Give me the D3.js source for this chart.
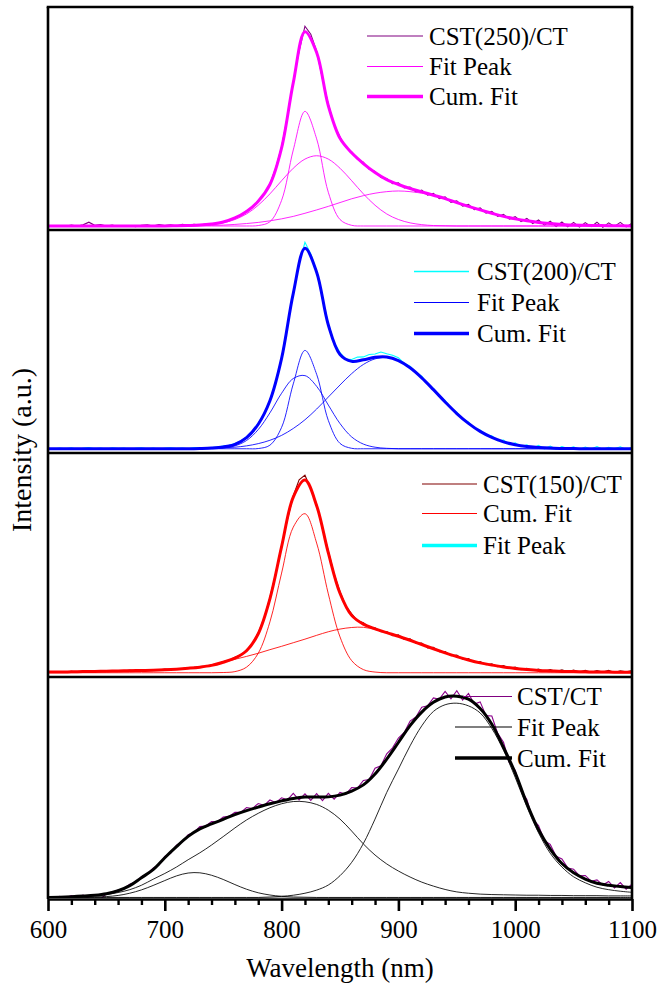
<!DOCTYPE html>
<html lang="en">
<head>
<meta charset="UTF-8">
<title>PL fits</title>
<script src="https://d3js.org/d3.v7.min.js"></script>
<style>
  body { margin: 0; background: #fff; }
  svg, svg text { font-family: "Liberation Serif", Tinos, "Times New Roman", Times, "DejaVu Serif", serif !important; }
  text { fill: #000; }
</style>
</head>
<body>
<script>
const w = 658;
const h = 994;
const serif = "'Liberation Serif', Tinos, 'Times New Roman', Times, 'DejaVu Serif', serif";

// wavelength grids (nm)
const wlFit = d3.range(600, 1101, 10);
const wlData = d3.range(600, 1101, 5);

const xTicks = [600, 700, 800, 900, 1000, 1100];
const xMinor = d3.range(620, 1100, 20).filter(d => d % 100 !== 0);

const legendLabels = [
  ["CST(250)/CT", "Fit Peak", "Cum. Fit"],
  ["CST(200)/CT", "Fit Peak", "Cum. Fit"],
  ["CST(150)/CT", "Cum. Fit", "Fit Peak"],
  ["CST/CT", "Fit Peak", "Cum. Fit"]
];

// ---- CST(250)/CT ----
const p1Data = [
  0.3,-0.2,0.2,-0.1,0.4,0.0,0.5,1.7,0.3,0.6,
  0.0,0.4,-0.2,0.2,0.1,-0.3,0.3,0.5,0.0,0.6,
  0.2,0.5,0.0,0.7,0.3,0.8,0.4,0.9,1.1,1.2,
  1.9,2.4,3.8,4.6,6.8,8.3,11.4,14.2,18.9,26.0,
  35.6,49.2,64.8,78.4,89.6,86.0,78.4,66.0,54.6,45.4,
  39.9,35.4,33.2,29.9,28.6,25.4,24.5,21.7,21.3,19.0,
  19.4,17.1,17.5,15.3,16.1,13.8,14.6,12.3,13.1,10.6,
  11.3,8.9,9.7,7.3,8.1,5.8,6.6,4.3,5.2,3.1,
  4.2,2.0,3.4,1.1,2.7,0.4,2.1,-0.2,1.8,-0.4,
  1.6,-0.5,1.5,-0.3,1.7,-0.6,1.4,-0.2,1.6,-0.4,
  1.2
];
const p1PeakA = [
  0,0,0,0,0,0,0,0,0,0,
  0,0,0,0,0,0,0,0,0.2,1.9,
  11.5,34.1,51.4,39.1,15.1,2.9,0.3,0,0,0,
  0,0,0,0,0,0,0,0,0,0,
  0,0,0,0,0,0,0,0,0,0,
  0
];
const p1PeakB = [
  0,0,0,0,0,0,0,0,0,0,
  0,0,0.1,0.2,0.6,1.4,2.9,5.4,9.3,14.4,
  20.3,25.9,30.0,31.5,30.0,25.9,20.3,14.4,9.3,5.4,
  2.9,1.4,0.6,0.2,0.1,0,0,0,0,0,
  0,0,0,0,0,0,0,0,0,0,
  0
];
const p1PeakC = [
  0,0,0,0,0,0,0,0,0,0,
  0,0.1,0.1,0.2,0.3,0.4,0.7,1.1,1.6,2.3,
  3.2,4.3,5.7,7.2,8.8,10.5,12.2,13.6,14.7,15.4,
  15.7,15.4,14.7,13.6,12.2,10.5,8.8,7.2,5.7,4.3,
  3.2,2.3,1.6,1.1,0.7,0.4,0.3,0.2,0.1,0.1,
  0
];
const p1Cum = [
  0,0,0,0,0,0,0,0,0,0,
  0,0.1,0.2,0.4,0.9,1.8,3.6,6.5,11.1,18.6,
  35.0,64.3,87.1,77.8,53.9,39.3,32.8,28.0,24.0,20.8,
  18.6,16.8,15.3,13.8,12.3,10.5,8.8,7.2,5.7,4.3,
  3.2,2.3,1.6,1.1,0.7,0.4,0.3,0.2,0.1,0.1,
  0
];

// ---- CST(200)/CT ----
const p2Data = [
  0.2,-0.1,0.3,0.0,0.4,-0.2,0.2,0.5,0.0,0.3,
  -0.1,0.4,0.1,0.3,-0.2,0.2,0.4,0.0,0.3,-0.1,
  0.2,0.4,0.1,0.3,0.0,0.5,0.3,0.4,0.6,0.8,
  1.2,1.6,2.4,3.5,5.3,7.9,11.4,15.8,21.9,30.2,
  40.9,55.6,70.4,83.1,92.6,87.4,79.6,67.3,56.1,47.6,
  43.1,40.2,40.0,41.1,41.2,42.3,42.5,43.4,42.6,41.9,
  40.8,38.3,37.0,34.2,32.6,29.0,27.1,23.6,21.7,18.2,
  16.4,13.3,12.0,9.3,8.4,6.0,5.8,3.6,3.9,1.9,
  2.6,0.9,1.8,0.2,1.5,0.0,1.2,-0.2,1.0,0.1,
  0.9,-0.3,0.8,-0.1,1.0,-0.2,0.7,0.0,0.9,-0.3,
  0.6
];
const p2PeakA = [
  0,0,0,0,0,0,0,0,0,0,
  0,0,0,0,0,0,0,0,0.1,1.6,
  9.6,29.1,44.1,33.4,12.7,2.4,0.2,0,0,0,
  0,0,0,0,0,0,0,0,0,0,
  0,0,0,0,0,0,0,0,0,0,
  0
];
const p2PeakB = [
  0,0,0,0,0,0,0,0,0,0,
  0,0,0,0,0.1,0.4,1.3,3.7,8.6,16.1,
  24.9,31.5,32.8,28.0,19.6,11.3,5.3,2.1,0.7,0.2,
  0,0,0,0,0,0,0,0,0,0,
  0,0,0,0,0,0,0,0,0,0,
  0
];
const p2PeakC = [
  0,0,0,0,0,0,0,0,0,0,
  0,0,0,0.1,0.2,0.4,0.7,1.3,2.3,3.8,
  6.0,9.1,13.0,17.8,23.2,28.6,33.7,37.8,40.3,40.9,
  39.5,36.3,31.8,26.5,21.0,15.8,11.4,7.8,5.1,3.1,
  1.8,1.0,0.6,0.3,0.1,0.1,0,0,0,0,
  0
];
const p2Cum = [
  0,0,0,0,0,0,0,0,0,0,
  0,0,0,0.1,0.3,0.8,2.0,5.0,11.0,21.5,
  40.5,69.7,89.9,79.2,55.5,42.3,39.2,39.9,41.0,41.1,
  39.5,36.3,31.8,26.5,21.0,15.8,11.4,7.8,5.1,3.1,
  1.8,1.0,0.6,0.3,0.1,0.1,0,0,0,0,
  0
];

// ---- CST(150)/CT ----
const p3Data = [
  0.4,0.1,0.5,0.2,0.6,0.3,0.7,0.4,0.8,0.5,
  0.9,0.6,1.0,0.8,1.2,0.9,1.3,1.0,1.4,1.2,
  1.6,1.4,1.8,1.9,2.2,2.4,2.8,3.0,3.6,4.0,
  5.0,5.6,6.9,7.9,10.2,13.0,17.9,24.3,33.6,44.5,
  56.9,68.4,79.0,86.1,88.2,82.0,75.1,64.3,54.4,44.0,
  36.2,29.8,26.3,23.2,22.3,20.2,20.1,18.3,18.4,16.6,
  16.9,14.9,15.1,13.2,13.3,11.1,11.3,9.4,9.5,7.6,
  7.9,6.0,6.3,4.6,5.0,3.6,4.0,2.7,3.2,2.0,
  2.5,1.4,2.0,1.0,1.6,0.7,1.4,0.5,1.3,0.4,
  1.2,0.3,1.1,0.2,1.0,0.3,1.1,0.1,0.9,0.4,
  1.0
];
const p3PeakA = [
  0,0,0,0,0,0,0,0,0,0,
  0,0,0,0,0,0.1,0.5,2.5,8.7,22.7,
  44.5,65.0,71.0,57.9,35.2,16.0,5.4,1.4,0.3,0,
  0,0,0,0,0,0,0,0,0,0,
  0,0,0,0,0,0,0,0,0,0,
  0
];
const p3PeakC = [
  0.3,0.3,0.4,0.5,0.6,0.7,0.8,0.9,1.0,1.1,
  1.3,1.6,2.0,2.5,3.3,4.6,6.0,7.3,8.7,10.3,
  11.8,13.4,15.0,16.7,18.3,19.5,20.2,20.3,19.3,17.9,
  16.3,14.5,12.6,10.7,8.9,7.2,5.7,4.4,3.4,2.6,
  1.9,1.4,1.0,0.8,0.6,0.5,0.4,0.3,0.3,0.2,
  0.2
];
const p3Cum = [
  0.3,0.3,0.4,0.5,0.6,0.7,0.8,0.9,1.0,1.1,
  1.3,1.6,2.0,2.5,3.3,4.7,6.5,9.8,17.4,33.0,
  56.3,78.4,86.0,74.6,53.5,35.5,25.6,21.7,19.6,17.9,
  16.3,14.5,12.6,10.7,8.9,7.2,5.7,4.4,3.4,2.6,
  1.9,1.4,1.0,0.8,0.6,0.5,0.4,0.3,0.3,0.2,
  0.2
];

// ---- CST/CT ----
const p4Data = [
  0.9,0.2,1.2,0.4,1.5,0.6,1.7,0.3,-0.6,0.0,
  2.3,3.0,4.0,4.8,6.6,7.6,10.0,11.3,13.9,15.3,
  19.2,20.6,24.3,25.8,29.0,30.0,32.6,32.9,34.9,34.8,
  36.9,37.2,39.1,39.0,41.2,40.8,43.0,42.2,44.6,43.4,
  45.6,44.7,47.6,44.6,47.4,44.4,47.5,44.3,47.6,45.0,
  48.0,47.2,50.2,50.0,53.4,53.8,58.9,60.0,65.4,68.1,
  72.5,75.0,80.1,82.0,86.4,87.0,90.6,90.0,93.5,90.2,
  93.8,89.6,92.6,87.8,88.8,82.6,82.4,74.6,70.6,61.4,
  58.0,48.8,44.8,36.0,33.1,26.3,24.6,19.3,18.0,14.0,
  13.4,10.4,10.6,8.0,8.6,6.3,7.9,5.0,7.4,4.4,
  6.7
];
const p4Peak1 = [
  0.7,0.7,0.7,0.8,0.9,1.1,1.6,2.6,4.1,6.1,
  8.3,10.4,11.7,11.8,10.7,8.8,6.5,4.4,2.8,1.8,
  1.2,0.9,0.8,0.7,0.7,0.7,0.7,0.7,0.7,0.7,
  0.7,0.7,0.7,0.7,0.7,0.7,0.7,0.7,0.7,0.7,
  0.7,0.7,0.7,0.7,0.7,0.7,0.7,0.7,0.7,0.7,
  0.7
];
const p4Peak2 = [
  0.8,0.9,1.0,1.2,1.5,2.0,2.9,4.2,6.2,8.9,
  11.5,14.4,17.7,20.8,24.3,28.1,32.0,35.6,38.6,41.1,
  42.9,43.9,43.8,42.6,40.0,36.0,30.6,24.8,19.8,15.8,
  12.6,9.9,7.6,5.8,4.3,3.2,2.6,2.2,2.0,1.9,
  1.8,1.7,1.7,1.6,1.6,1.5,1.5,1.5,1.4,1.4,
  1.4
];
const p4Peak3 = [
  0.7,0.7,0.7,0.7,0.7,0.7,0.7,0.7,0.7,0.7,
  0.7,0.7,0.7,0.7,0.7,0.7,0.7,0.7,0.7,0.9,
  1.2,1.7,2.6,4.0,6.3,10.5,16.5,25.0,36.0,48.0,
  58.5,69.0,78.0,84.5,87.5,88.2,87.0,83.8,76.8,67.0,
  54.8,41.5,29.8,20.6,14.4,10.0,7.3,5.3,4.2,3.5,
  3.0
];
const p4Cum = [
  0.7,0.8,1.0,1.3,1.7,2.4,3.7,6.0,9.6,13.2,
  18.6,23.6,28.2,31.6,33.8,35.9,38.0,39.8,41.4,42.9,
  44.2,45.3,45.9,45.9,46.0,46.8,48.6,51.4,56.3,63.0,
  70.5,78.1,84.2,88.6,91.0,91.3,90.0,85.8,78.7,68.3,
  56.8,43.0,31.2,22.5,16.0,11.8,9.0,7.1,6.2,5.6,
  5.1
];
const p4Baseline = 0.4;

// layout
const left = 48, right = 632;
const edges = [7, 230, 453, 677, 899];

const panels = [
  { data: p1Data, peaks: [p1PeakA, p1PeakB, p1PeakC], cum: p1Cum, domain: [-1.8, 98.2],
    dataColor: "#800080", peakColor: "#ff00ff", cumColor: "#ff00ff",
    leg: { x1: 367, x2: 423, tx: 429, ys: [36, 66.5, 96.5],
           colors: ["#800080", "#ff00ff", "#ff00ff"], widths: [1.2, 1.2, 3.7] } },
  { data: p2Data, peaks: [p2PeakA, p2PeakB, p2PeakC], cum: p2Cum, domain: [-1.9, 98.1],
    dataColor: "#00ffff", peakColor: "#0000ff", cumColor: "#0000ff",
    leg: { x1: 414, x2: 469, tx: 477, ys: [271.5, 302.5, 333.5],
           colors: ["#00ffff", "#0000ff", "#0000ff"], widths: [1.4, 1.2, 3.7] } },
  { data: p3Data, peaks: [p3PeakA, p3PeakC], cum: p3Cum, domain: [-1.9, 98.1],
    dataColor: "#800000", peakColor: "#ff0000", cumColor: "#ff0000",
    leg: { x1: 422, x2: 477, tx: 483, ys: [484, 513.5, 545.5],
           colors: ["#800000", "#ff0000", "#00ffff"], widths: [1.2, 1.2, 3.7] } },
  { data: p4Data, peaks: [p4Peak1, p4Peak2, p4Peak3], cum: p4Cum, domain: [0, 100],
    dataColor: "#8b008b", peakColor: "#000000", cumColor: "#000000",
    leg: { x1: 455, x2: 512, tx: 517, ys: [696.5, 727, 758], firstX1: 463,
           colors: ["#800080", "#000000", "#000000"], widths: [1.2, 1.2, 3.7] } }
];

const svg = d3.select("body")
  .append("svg")
  .attr("width", w)
  .attr("height", h)
  .attr("font-family", serif)
  .style("background", "#fff");

const x = d3.scaleLinear().domain([600, 1100]).range([left, right]);

const defs = svg.append("defs");

panels.forEach((p, i) => {
  const top = edges[i], bottom = edges[i + 1];
  const y = d3.scaleLinear().domain(p.domain).range([bottom, top]);

  defs.append("clipPath").attr("id", "clip" + i)
    .append("rect")
    .attr("x", left + 1).attr("y", top + 1)
    .attr("width", right - left - 2).attr("height", bottom - top - 2);

  const g = svg.append("g").attr("clip-path", "url(#clip" + i + ")");

  const fitLine = d3.line()
    .x((d, j) => x(wlFit[j]))
    .y(d => y(d))
    .curve(d3.curveCatmullRom.alpha(0.5));
  const dataLine = d3.line()
    .x((d, j) => x(wlData[j]))
    .y(d => y(d));

  if (i === 3) {
    g.append("line")
      .attr("x1", left).attr("x2", right)
      .attr("y1", y(p4Baseline)).attr("y2", y(p4Baseline))
      .attr("stroke", "#9a9a9a").attr("stroke-width", 1.6);
  }

  // raw spectrum first, fits drawn over it
  g.append("path")
    .datum(p.data)
    .attr("d", dataLine)
    .attr("fill", "none")
    .attr("stroke", p.dataColor)
    .attr("stroke-width", 1.1);

  p.peaks.forEach(pk => {
    g.append("path")
      .datum(pk)
      .attr("d", fitLine)
      .attr("fill", "none")
      .attr("stroke", p.peakColor)
      .attr("stroke-width", 1)
      .attr("stroke-opacity", 0.85);
  });

  g.append("path")
    .datum(p.cum)
    .attr("d", fitLine)
    .attr("fill", "none")
    .attr("stroke", p.cumColor)
    .attr("stroke-width", 3);

  // legend
  const lg = svg.append("g");
  legendLabels[i].forEach((lab, k) => {
    const ly = p.leg.ys[k];
    lg.append("line")
      .attr("x1", (k === 0 && p.leg.firstX1) ? p.leg.firstX1 : p.leg.x1)
      .attr("x2", p.leg.x2)
      .attr("y1", ly).attr("y2", ly)
      .attr("stroke", p.leg.colors[k])
      .attr("stroke-width", p.leg.widths[k]);
    lg.append("text")
      .attr("x", p.leg.tx)
      .attr("y", ly + 8.8)
      .attr("font-family", serif)
      .style("font-size", "25px")
      .text(lab);
  });
});

// frame
const frame = svg.append("g")
  .attr("stroke", "#000")
  .attr("stroke-width", 2.6);
frame.append("line").attr("x1", left - 1.3).attr("x2", right + 1.3).attr("y1", edges[0]).attr("y2", edges[0]);
edges.slice(1, 4).forEach(e => {
  frame.append("line").attr("x1", left).attr("x2", right).attr("y1", e).attr("y2", e);
});
frame.append("line").attr("x1", left).attr("x2", left).attr("y1", edges[0]).attr("y2", edges[4]);
frame.append("line").attr("x1", right).attr("x2", right).attr("y1", edges[0]).attr("y2", edges[4]);

// x axis
const xAxis = d3.axisBottom(x)
  .tickValues(xTicks)
  .tickSize(12)
  .tickSizeOuter(0)
  .tickPadding(9)
  .tickFormat(d3.format("d"));

const minorAxis = d3.axisBottom(x)
  .tickValues(xMinor)
  .tickSize(6)
  .tickFormat("");

const gm = svg.append("g")
  .attr("transform", "translate(0," + edges[4] + ")")
  .call(minorAxis);
gm.select(".domain").remove();
gm.selectAll("line").attr("stroke", "#000").attr("stroke-width", 2.4);

const gx = svg.append("g")
  .attr("transform", "translate(0," + edges[4] + ")")
  .call(xAxis)
  .attr("font-family", serif)
  .attr("font-size", 25);
gx.select(".domain").attr("stroke", "#000").attr("stroke-width", 2.6);
gx.selectAll(".tick line").attr("stroke", "#000").attr("stroke-width", 2.6);
gx.selectAll(".tick text").attr("fill", "#000");

// axis titles
svg.append("text")
  .attr("x", (left + right) / 2)
  .attr("y", 977)
  .attr("text-anchor", "middle")
  .attr("font-family", serif)
  .style("font-size", "27px")
  .text("Wavelength (nm)");

svg.append("text")
  .attr("transform", "translate(31,450) rotate(-90)")
  .attr("text-anchor", "middle")
  .attr("font-family", serif)
  .style("font-size", "28px")
  .text("Intensity (a.u.)");
</script>
</body>
</html>
